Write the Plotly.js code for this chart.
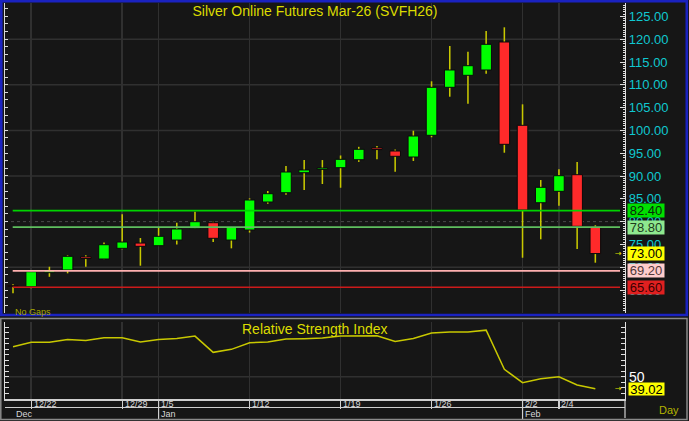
<!DOCTYPE html>
<html><head><meta charset="utf-8">
<script src="https://cdn.plot.ly/plotly-3.0.1.min.js"></script>
<style>html,body{margin:0;padding:0;background:#000;}#chart{width:689px;height:421px;}</style>
</head><body><div id="chart"></div>
<script>
// ---------- DATA ----------
const titleText = 'Silver Online Futures Mar-26 (SVFH26)';
const rsiTitle = 'Relative Strength Index';
const openP  = [65.95,65.73,68.80,69.39,72.25,71.80,74.14,75.30,74.72,75.96,78.44,79.76,75.96,78.16,84.30,86.34,90.72,91.45,91.82,93.57,96.15,95.48,94.17,98.93,109.45,112.08,113.25,119.39,101.12,84.14,86.64,90.29,78.82];
const highP  = [66.25,69.10,70.10,72.60,72.60,75.40,81.60,76.40,78.60,79.76,82.17,79.98,78.90,85.10,86.70,92.20,93.51,93.50,94.50,96.40,96.60,95.80,99.93,110.77,118.51,117.26,121.80,122.61,105.72,89.12,91.47,93.07,79.20];
const lowP   = [64.28,65.37,67.90,68.66,70.10,71.75,73.93,70.33,74.70,75.00,78.40,75.53,74.14,77.60,83.90,85.90,86.93,88.25,87.43,93.10,93.70,90.94,93.30,98.50,107.39,105.86,112.40,95.11,72.08,76.12,83.49,73.99,70.99];
const closeP = [65.80,69.01,69.23,72.39,71.90,74.93,75.53,74.58,76.78,78.38,79.98,76.34,78.88,84.74,86.12,90.88,91.32,91.75,93.66,95.86,95.80,94.32,98.77,109.45,113.25,114.19,118.88,96.95,82.54,87.52,90.07,78.97,73.00];
const rsiVals = [77.1,81.2,81.2,83.8,82.9,85.3,85.3,81.4,83.8,84.7,86.8,72.1,74.8,80.8,81.4,84.1,84.4,85.0,86.8,87.1,87.1,82.0,84.7,89.6,90.5,90.5,92.2,56.7,44.6,48.2,50.0,42.5,39.02];
const dateTickIdx  = [1,6,8,13,18,23,28,30];
const dateTickText = ['12/22','12/29','1/5','1/12','1/19','1/26','2/2','2/4'];
const monthIdx  = [0,8,28];
const monthText = ['Dec','Jan','Feb'];
const priceTicks = [65,70,75,80,85,90,95,100,105,110,115,120,125];
const levelVals   = [82.40,78.80,69.20,65.60];
const levelColors = ['#00d400','#5fbf5f','#ffb0b0','#cc1a1a'];
const levelBoxBg  = ['#00e000','#8ee88e','#ffcccc','#e02020'];
const levelTxt    = ['#0a2a0a','#1e3a1e','#503838','#3a0000'];
const priceGrid = [70,90,100,110,120];
const priceGridDotted = [80];
const rsiGrid = [50];

// ---------- GEOMETRY ----------
const FONT = 'Arial, "Liberation Sans", sans-serif';
const idx = openP.map((_, i) => i);
const pxX = px => (px - 5) / 620;           // pixel -> paper x
const pxY = py => (399 - py) / 396;         // pixel -> paper y
const BG = '#161616';

const isUp = idx.map(i => closeP[i] >= openP[i]);
const bodyColors = isUp.map(u => u ? '#00ff00' : '#ff2a2a');

const traces = [
  { type:'bar', x:idx, base:lowP, y:idx.map(i => highP[i]-lowP[i]), width:0.085,
    marker:{color:'#c8c800', line:{width:0}}, xaxis:'x', yaxis:'y', hoverinfo:'skip', showlegend:false },
  { type:'bar', x:idx, base:idx.map(i => Math.min(openP[i],closeP[i])),
    y:idx.map(i => Math.abs(closeP[i]-openP[i])), width:0.58,
    marker:{color:bodyColors, line:{width:1, color:'#0a0a0a'}}, xaxis:'x', yaxis:'y', hoverinfo:'skip', showlegend:false },
  { type:'scatter', mode:'lines', x:idx, y:rsiVals, line:{color:'#c8c800', width:1.5},
    xaxis:'x', yaxis:'y2', hoverinfo:'skip', showlegend:false },
  { type:'scatter', mode:'lines', x:[], y:[], xaxis:'x', yaxis:'y3', hoverinfo:'skip', showlegend:false }
];

const shapes = [];
priceGrid.forEach(v => shapes.push({type:'line', xref:'paper', x0:0, x1:1, yref:'y', y0:v, y1:v, line:{color:'#303030', width:1.5}, layer:'below'}));
priceGridDotted.forEach(v => shapes.push({type:'line', xref:'paper', x0:0, x1:1, yref:'y', y0:v, y1:v, line:{color:'#4a4a4a', width:1, dash:'dot'}, layer:'below'}));
rsiGrid.forEach(v => shapes.push({type:'line', xref:'paper', x0:0, x1:1, yref:'y2', y0:v, y1:v, line:{color:'#303030', width:1.5}, layer:'below'}));
levelVals.forEach((v, k) => shapes.push({type:'line', xref:'paper', x0:pxX(12.7), x1:pxX(620), yref:'y', y0:v, y1:v, line:{color:levelColors[k], width:1.6}, layer:'above'}));
// date row / month row lines
shapes.push({type:'line', xref:'paper', x0:0, x1:1, yref:'paper', y0:pxY(407.5), y1:pxY(407.5), line:{color:'#d0d0d0', width:1.2}});
monthIdx.slice(1).forEach(m => shapes.push({type:'line', xref:'x', x0:m, x1:m, yref:'paper', y0:pxY(420), y1:0, line:{color:'#d0d0d0', width:1.2}}));
shapes.push({type:'line', xref:'paper', x0:1, x1:1, yref:'paper', y0:pxY(418), y1:0, line:{color:'#d0d0d0', width:1.2}});
// panel borders
shapes.push({type:'rect', xref:'paper', yref:'paper', x0:pxX(1.3), x1:pxX(686.8), y0:pxY(315), y1:pxY(1.3), line:{color:'#1a22c0', width:2.6}, fillcolor:'rgba(0,0,0,0)'});
shapes.push({type:'rect', xref:'paper', yref:'paper', x0:pxX(0.8), x1:pxX(687), y0:pxY(419.5), y1:pxY(318.5), line:{color:'#8a8a8a', width:1.5}, fillcolor:'rgba(0,0,0,0)'});

const annotations = [];
const lastClose = closeP[closeP.length-1];
const lastRsi = rsiVals[rsiVals.length-1];
levelVals.forEach((v, k) => annotations.push({xref:'paper', x:pxX(627.3), xanchor:'left', yref:'y', y:v, yanchor:'middle',
  text:v.toFixed(2), showarrow:false, bgcolor:levelBoxBg[k], width:36, height:13, borderpad:0,
  font:{family:FONT, size:13, color:levelTxt[k]}}));
annotations.push({xref:'paper', x:pxX(627.3), xanchor:'left', yref:'y', y:lastClose, yanchor:'middle',
  text:lastClose.toFixed(2), showarrow:false, bgcolor:'#ffff00', width:36, height:13, borderpad:0,
  font:{family:FONT, size:13, color:'#000'}});
annotations.push({xref:'paper', x:pxX(618.5), xanchor:'center', yref:'y', y:lastClose, yanchor:'middle',
  text:'→', showarrow:false, font:{family:'DejaVu Sans', size:8, color:'#e0e000'}});
annotations.push({xref:'paper', x:pxX(627.7), xanchor:'left', yref:'y2', y:lastRsi, yanchor:'middle',
  text:lastRsi.toFixed(2), showarrow:false, bgcolor:'#ffff00', width:35, height:12, borderpad:0,
  font:{family:FONT, size:13, color:'#000'}});
annotations.push({xref:'paper', x:pxX(618), xanchor:'center', yref:'y2', y:lastRsi, yanchor:'middle',
  text:'→', showarrow:false, font:{family:'DejaVu Sans', size:8, color:'#e0e000'}});
annotations.push({xref:'paper', x:0.5, xanchor:'center', yref:'paper', y:pxY(329.3), yanchor:'middle',
  text:rsiTitle, showarrow:false, font:{family:FONT, size:14, color:'#dcdc00'}});
annotations.push({xref:'paper', x:pxX(13.3), xanchor:'left', yref:'paper', y:pxY(311.5), yanchor:'middle',
  text:'No Gaps', showarrow:false, font:{family:FONT, size:9, color:'#a8a800'}});
dateTickIdx.forEach((d, k) => annotations.push({xref:'x', x:d, xanchor:'left', xshift:0.5, yref:'paper', y:pxY(404), yanchor:'middle',
  text:dateTickText[k], showarrow:false, font:{family:FONT, size:9, color:'#d8d8d8'}}));
monthIdx.forEach((m, k) => annotations.push({xref:'x', x:m, xanchor:'left', xshift:0.5, yref:'paper', y:pxY(414), yanchor:'middle',
  text:monthText[k], showarrow:false, font:{family:FONT, size:9, color:'#d8d8d8'}}));
annotations.push({xref:'paper', x:pxX(669), xanchor:'center', yref:'paper', y:pxY(409.5), yanchor:'middle',
  text:'Day', showarrow:false, font:{family:FONT, size:11, color:'#b4b400'}});

const rsiTicks = [];
for (let v = 30; v <= 100; v += 5) rsiTicks.push(v);

const layout = {
  width:689, height:421, paper_bgcolor:BG, plot_bgcolor:BG,
  margin:{l:5, r:64, t:3, b:22}, barmode:'overlay', showlegend:false, hovermode:false,
  title:{text:titleText, x:0.5, xref:'paper', xanchor:'center', y:1-11/421, yref:'container', yanchor:'middle',
         font:{family:FONT, size:14, color:'#dcdc00'}},
  xaxis:{range:[-0.44, 33.63], anchor:'y2', tickmode:'array', tickvals:dateTickIdx, ticktext:dateTickText,
         showticklabels:false, ticks:'outside', ticklen:8.5, tickcolor:'#d0d0d0', tickwidth:1.2,
         showline:true, linecolor:'#d0d0d0', linewidth:1.5, showgrid:true, gridcolor:'#303030', gridwidth:1.5, zeroline:false, fixedrange:true},
  yaxis:{domain:[pxY(313), 1], range:[59.96, 127.94], side:'right', anchor:'x', tickmode:'array', tickvals:priceTicks,
         ticktext:priceTicks.map(v => v.toFixed(2)),
         ticks:'inside', ticklen:5, tickcolor:'#e0e0e0', showline:true, linecolor:'#e0e0e0', linewidth:1.2,
         minor:{tickmode:'linear', dtick:0.5, tick0:0, ticks:'inside', ticklen:2, tickcolor:'#e0e0e0', showgrid:false},
         tickfont:{family:FONT, size:13, color:'#10c8d0'}, showgrid:false, zeroline:false, fixedrange:true},
  yaxis3:{overlaying:'y', side:'left', anchor:'x', range:[59.96, 127.94], tickmode:'linear', tick0:60, dtick:1.667,
         ticks:'inside', ticklen:3, tickcolor:'#d8d8d8', showline:true, linecolor:'#d8d8d8', linewidth:1.2,
         showticklabels:false, showgrid:false, zeroline:false, fixedrange:true},
  yaxis2:{domain:[0, pxY(321.5)], range:[29.8, 100.05], side:'right', anchor:'x', tickmode:'array', tickvals:rsiTicks,
         ticktext:rsiTicks.map(v => v === 50 ? '50' : ''), ticks:'inside', ticklen:4, tickcolor:'#e0e0e0',
         mirror:'ticks', showline:true, linecolor:'#e0e0e0', linewidth:1.2,
         tickfont:{family:FONT, size:14, color:'#ffffff'}, showgrid:false, zeroline:false, fixedrange:true},
  shapes:shapes, annotations:annotations
};

Plotly.newPlot('chart', traces, layout, {displayModeBar:false, staticPlot:true});
</script></body></html>
